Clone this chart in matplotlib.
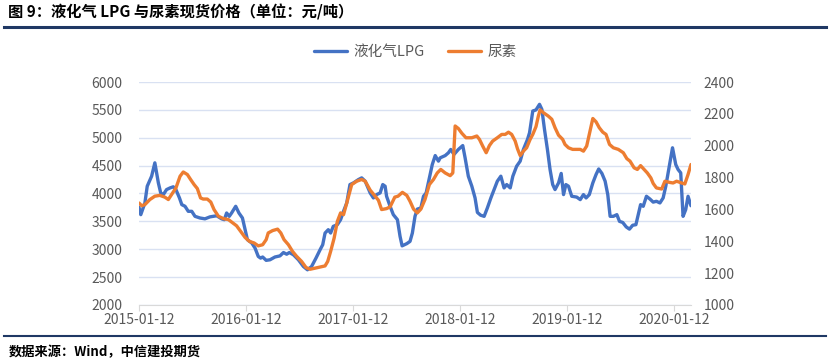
import matplotlib
matplotlib.use("Agg")
import matplotlib.pyplot as plt
import matplotlib.dates as mdates
import pandas as pd

plt.rcParams['font.family'] = ['Noto Sans CJK SC', 'DejaVu Sans']

# 液化气LPG (left axis)
lpg_dates = [
    '2015-01-12', '2015-01-18', '2015-02-01', '2015-02-09', '2015-02-24', '2015-03-07', '2015-03-19',
    '2015-03-27', '2015-04-05', '2015-04-16', '2015-04-28', '2015-05-09', '2015-05-18', '2015-05-30',
    '2015-06-07', '2015-06-18', '2015-06-29', '2015-07-11', '2015-07-22', '2015-08-08', '2015-08-25',
    '2015-09-11', '2015-10-04', '2015-10-21', '2015-10-30', '2015-11-07', '2015-11-16', '2015-11-24',
    '2015-12-08', '2015-12-19', '2015-12-31', '2016-01-09', '2016-01-17', '2016-02-01', '2016-02-12',
    '2016-02-23', '2016-03-02', '2016-03-09', '2016-03-21', '2016-04-03', '2016-04-20', '2016-05-07',
    '2016-05-19', '2016-05-30', '2016-06-08', '2016-06-22', '2016-07-09', '2016-07-26', '2016-08-09',
    '2016-08-23', '2016-09-07', '2016-09-21', '2016-09-30', '2016-10-08', '2016-10-19', '2016-10-27',
    '2016-11-05', '2016-11-19', '2016-11-30', '2016-12-10', '2016-12-21', '2017-01-01', '2017-01-13',
    '2017-01-30', '2017-02-10', '2017-02-22', '2017-03-11', '2017-03-22', '2017-04-02', '2017-04-14',
    '2017-04-23', '2017-05-01', '2017-05-06', '2017-05-18', '2017-05-29', '2017-06-12', '2017-06-21',
    '2017-06-28', '2017-07-14', '2017-07-25', '2017-08-02', '2017-08-11', '2017-08-19', '2017-08-31',
    '2017-09-09', '2017-09-18', '2017-09-29', '2017-10-09', '2017-10-19', '2017-10-30', '2017-11-05',
    '2017-11-22', '2017-12-03', '2017-12-11', '2017-12-22', '2018-01-06', '2018-01-21', '2018-01-29',
    '2018-02-09', '2018-02-21', '2018-03-04', '2018-03-12', '2018-03-23', '2018-04-04', '2018-04-15',
    '2018-04-27', '2018-05-08', '2018-05-19', '2018-05-31', '2018-06-11', '2018-06-20', '2018-07-02',
    '2018-07-11', '2018-07-24', '2018-08-05', '2018-08-16', '2018-08-30', '2018-09-06', '2018-09-17',
    '2018-09-28', '2018-10-10', '2018-10-18', '2018-10-27', '2018-11-06', '2018-11-15', '2018-11-24',
    '2018-12-02', '2018-12-14', '2018-12-23', '2018-12-31', '2019-01-08', '2019-01-17', '2019-01-28',
    '2019-02-14', '2019-02-26', '2019-03-09', '2019-03-18', '2019-03-29', '2019-04-10', '2019-04-21',
    '2019-04-30', '2019-05-11', '2019-05-22', '2019-05-31', '2019-06-08', '2019-06-19', '2019-07-01',
    '2019-07-10', '2019-07-21', '2019-08-02', '2019-08-13', '2019-08-24', '2019-09-04', '2019-09-12',
    '2019-09-20', '2019-09-29', '2019-10-10', '2019-10-22', '2019-11-02', '2019-11-13', '2019-11-25',
    '2019-12-06', '2019-12-15', '2019-12-27', '2020-01-07', '2020-01-18', '2020-01-26', '2020-02-04',
    '2020-02-12', '2020-02-21', '2020-02-29', '2020-03-10',
]
lpg_values = [
    3750, 3620, 3830, 4130, 4310, 4550, 4190,
    4010, 3980, 4070, 4100, 4120, 4070, 3920,
    3800, 3770, 3680, 3680, 3590, 3560, 3545,
    3580, 3600, 3545, 3530, 3650, 3590, 3650,
    3770, 3650, 3560, 3350, 3170, 3110, 3020,
    2870, 2840, 2860, 2800, 2810, 2860, 2880,
    2940, 2910, 2940, 2900, 2810, 2690, 2630,
    2690, 2840, 2990, 3080, 3290, 3350, 3290,
    3410, 3440, 3530, 3680, 3830, 4160, 4190,
    4250, 4280, 4220, 4010, 3920, 3980, 4010,
    4160, 4130, 3950, 3770, 3620, 3530, 3230,
    3060, 3100, 3140, 3290, 3590, 3720, 3740,
    3950, 4010, 4280, 4520, 4680, 4580, 4640,
    4680, 4730, 4790, 4700, 4790, 4860, 4640,
    4310, 4130, 3920, 3660, 3610, 3590, 3740,
    3920, 4070, 4220, 4310, 4100, 4160, 4100,
    4310, 4490, 4580, 4790, 4970, 5090, 5480,
    5500, 5600, 5510, 5150, 4790, 4430, 4160,
    4070, 4190, 4360, 3980, 4160, 4130, 3950,
    3935, 3890, 3980, 3920, 3980, 4190, 4340,
    4440, 4360, 4220, 3980, 3590, 3590, 3620,
    3500, 3480, 3400, 3360, 3430, 3440, 3620,
    3800, 3770, 3950, 3900, 3845, 3860, 3830,
    3920, 4130, 4490, 4820, 4520, 4430, 4370,
    3590, 3710, 3950, 3780,
]

# 尿素 (right axis)
urea_dates = [
    '2015-01-12', '2015-01-21', '2015-02-01', '2015-02-18', '2015-03-07', '2015-03-24', '2015-04-10',
    '2015-04-22', '2015-05-03', '2015-05-18', '2015-06-01', '2015-06-12', '2015-06-26', '2015-07-07',
    '2015-07-19', '2015-07-30', '2015-08-10', '2015-08-19', '2015-09-02', '2015-09-14', '2015-09-25',
    '2015-10-10', '2015-10-27', '2015-11-13', '2015-11-28', '2015-12-11', '2015-12-25', '2016-01-09',
    '2016-01-24', '2016-02-09', '2016-02-23', '2016-03-09', '2016-03-21', '2016-03-28', '2016-04-12',
    '2016-04-29', '2016-05-10', '2016-05-21', '2016-06-05', '2016-06-19', '2016-07-03', '2016-07-20',
    '2016-08-04', '2016-08-18', '2016-09-04', '2016-09-21', '2016-10-08', '2016-10-17', '2016-10-27',
    '2016-11-08', '2016-11-19', '2016-11-30', '2016-12-10', '2016-12-21', '2017-01-07', '2017-01-24',
    '2017-02-10', '2017-02-22', '2017-03-11', '2017-03-28', '2017-04-08', '2017-04-19', '2017-05-06',
    '2017-05-18', '2017-06-03', '2017-06-14', '2017-06-29', '2017-07-14', '2017-07-25', '2017-08-06',
    '2017-08-19', '2017-08-31', '2017-09-14', '2017-09-29', '2017-10-13', '2017-10-26', '2017-11-07',
    '2017-11-22', '2017-12-09', '2017-12-18', '2017-12-26', '2018-01-06', '2018-01-18', '2018-02-01',
    '2018-02-21', '2018-03-10', '2018-03-19', '2018-03-30', '2018-04-11', '2018-04-22', '2018-05-03',
    '2018-05-19', '2018-06-03', '2018-06-15', '2018-06-26', '2018-07-07', '2018-07-19', '2018-07-27',
    '2018-08-05', '2018-08-16', '2018-08-27', '2018-09-08', '2018-09-17', '2018-09-28', '2018-10-06',
    '2018-10-12', '2018-10-23', '2018-11-09', '2018-11-21', '2018-12-02', '2018-12-14', '2018-12-28',
    '2019-01-05', '2019-01-17', '2019-01-31', '2019-02-26', '2019-03-09', '2019-03-20', '2019-03-29',
    '2019-04-10', '2019-04-21', '2019-05-02', '2019-05-14', '2019-05-25', '2019-06-06', '2019-06-19',
    '2019-07-06', '2019-07-23', '2019-08-04', '2019-08-15', '2019-08-29', '2019-09-09', '2019-09-20',
    '2019-10-02', '2019-10-13', '2019-10-25', '2019-11-02', '2019-11-13', '2019-12-01', '2019-12-12',
    '2019-12-27', '2020-01-09', '2020-01-21', '2020-02-07', '2020-02-18', '2020-02-29', '2020-03-10',
]
urea_values = [
    1640, 1623, 1630, 1662, 1683, 1688, 1677,
    1662, 1693, 1735, 1808, 1835, 1819, 1788,
    1756, 1731, 1672, 1665, 1665, 1646, 1599,
    1557, 1542, 1536, 1515, 1497, 1462, 1424,
    1399, 1389, 1371, 1378, 1410, 1452, 1467,
    1476, 1452, 1410, 1378, 1336, 1305, 1273,
    1235, 1224, 1231, 1238, 1245, 1273, 1336,
    1420, 1525, 1578, 1567, 1640, 1756, 1777,
    1788, 1777, 1721, 1683, 1658, 1599, 1605,
    1616, 1677, 1683, 1707, 1688, 1651, 1602,
    1578, 1602, 1662, 1756, 1788, 1829, 1851,
    1829, 1812, 1829, 2124, 2108, 2078, 2050,
    2050, 2061, 2040, 1998, 1956, 2001, 2029,
    2050, 2071, 2071, 2085, 2071, 2029, 1980,
    1938, 1966, 1987, 2040, 2071, 2120, 2186,
    2225, 2208, 2186, 2166, 2113, 2066, 2040,
    2008, 1987, 1977, 1977, 1966, 1998, 2071,
    2171, 2150, 2113, 2085, 2071, 2008, 1987,
    1977, 1956, 1919, 1903, 1861, 1851, 1875,
    1851, 1829, 1798, 1763, 1735, 1728, 1777,
    1770, 1766, 1777, 1766, 1760, 1819, 1882,
]

tick_dates = ['2015-01-12', '2016-01-12', '2017-01-12', '2018-01-12', '2019-01-12', '2020-01-12']
x_end = '2020-03-10'

title = '图 9：液化气 LPG 与尿素现货价格（单位：元/吨）'
source = '数据来源：Wind，中信建投期货'

blue = '#4472C4'
orange = '#ED7D31'
grey = '#595959'
navy = '#1F3864'

fig = plt.figure(figsize=(8.3, 3.63), dpi=100)
ax = fig.add_axes([0.1675, 0.160, 0.665, 0.614])
ax2 = ax.twinx()

l1, = ax.plot(pd.to_datetime(lpg_dates), lpg_values, color=blue, lw=2.4, label='液化气LPG',
              solid_joinstyle='round', solid_capstyle='round')
l2, = ax2.plot(pd.to_datetime(urea_dates), urea_values, color=orange, lw=2.4, label='尿素',
               solid_joinstyle='round', solid_capstyle='round')

ax.set_ylim(2000, 6000)
ax.set_yticks(range(2000, 6001, 500))
ax2.set_ylim(1000, 2400)
ax2.set_yticks(range(1000, 2401, 200))
ax.set_xlim(pd.Timestamp(tick_dates[0]), pd.Timestamp(x_end))
ax.set_xticks(pd.to_datetime(tick_dates))
ax.xaxis.set_major_formatter(mdates.DateFormatter('%Y-%m-%d'))

ax.grid(axis='y', color='#D9E1F2', lw=1.0)
ax.set_axisbelow(True)
for a in (ax, ax2):
    for s in ('top', 'left', 'right', 'bottom'):
        a.spines[s].set_visible(False)
ax.spines['bottom'].set_visible(True)
ax.spines['bottom'].set_color('#D9D9D9')
ax.tick_params(axis='y', length=0, pad=12, labelsize=10, labelcolor=grey)
ax2.tick_params(axis='y', length=0, pad=9, labelsize=10, labelcolor=grey)
ax.tick_params(axis='x', length=4, color='#D9D9D9', labelsize=10, labelcolor=grey, pad=2)

fig.legend(handles=[l1, l2], loc='center', bbox_to_anchor=(0.5, 0.857), ncol=2, frameon=False,
           fontsize=10.5, labelcolor=grey, handlelength=2.3, columnspacing=1.6, handletextpad=0.4)

fig.text(0.010, 0.965, title, fontsize=11, fontweight='bold', va='center', ha='left', color='black')
fig.add_artist(plt.Line2D([0.005, 0.995], [0.925, 0.925], color=navy, lw=2.2))
fig.add_artist(plt.Line2D([0.005, 0.995], [0.075, 0.075], color=navy, lw=1.5))
fig.text(0.010, 0.030, source, fontsize=9.5, fontweight='bold', style='italic', va='center', ha='left')

fig.savefig('out.png', dpi=100)
